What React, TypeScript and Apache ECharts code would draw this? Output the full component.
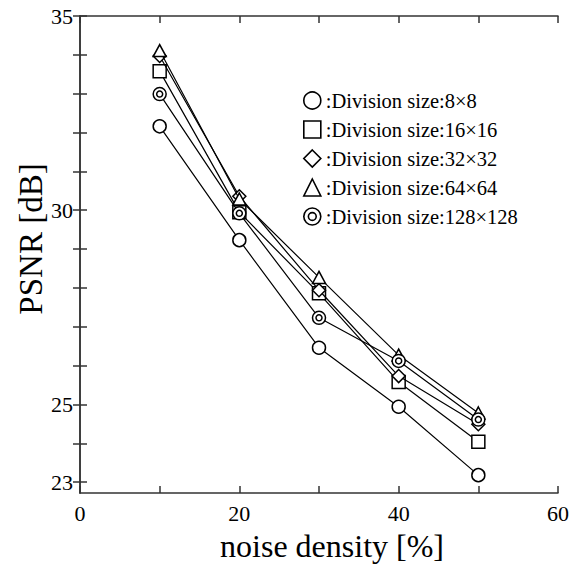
import React, { useEffect, useRef } from "react";
import * as echarts from "echarts";

const noiseDensity = [10, 20, 30, 40, 50];
const div8 = [32.16, 29.23, 26.46, 24.94, 23.18];
const div16 = [33.58, 29.95, 27.86, 25.58, 24.04];
const div32 = [33.97, 30.36, 27.94, 25.73, 24.49];
const div64 = [34.11, 30.29, 28.27, 26.27, 24.78];
const div128 = [32.99, 29.92, 27.23, 26.12, 24.61];

const seriesNames = [
  ":Division size:8×8",
  ":Division size:16×16",
  ":Division size:32×32",
  ":Division size:64×64",
  ":Division size:128×128",
];

const xTicks = [0, 10, 20, 30, 40, 50, 60];
const xLabels = [0, 20, 40, 60];
const yTicks = [23, 24, 25, 26, 27, 28, 29, 30, 31, 32, 33, 34, 35];
const yLabels = [23, 25, 30, 35];

const DOUBLE_CIRCLE =
  "path://M0,-10A10,10,0,1,1,0,10A10,10,0,1,1,0,-10ZM0,-4.6A4.6,4.6,0,1,1,0,4.6A4.6,4.6,0,1,1,0,-4.6Z";
const symbols = ["circle", "rect", "diamond", "triangle", DOUBLE_CIRCLE];
const values = [div8, div16, div32, div64, div128];

const FONT = "Liberation Serif";
const AXIS_COLOR = "#333";

export default function App() {
  const ref = useRef<HTMLDivElement>(null);

  useEffect(() => {
    document.body.style.margin = "0";
    if (!ref.current) return;
    const chart = echarts.init(ref.current, undefined, { renderer: "svg" });

    const axisLine = { show: true, lineStyle: { color: AXIS_COLOR, width: 1.5 } };

    const mkX = (pos: "bottom" | "top", labels: boolean) => ({
      type: "value",
      position: pos,
      min: 0,
      max: 60,
      interval: 10,
      axisLine,
      splitLine: { show: false },
      axisTick: {
        show: true,
        inside: true,
        length: 7,
        customValues: xTicks,
        lineStyle: { color: AXIS_COLOR, width: 1.5 },
      },
      axisLabel: {
        show: labels,
        customValues: xLabels,
        color: "#000",
        fontFamily: FONT,
        fontSize: 22,
        margin: 9,
      },
    });

    const mkY = (pos: "left" | "right", labels: boolean) => ({
      type: "value",
      position: pos,
      min: 22.72,
      max: 35,
      axisLine,
      splitLine: { show: false },
      axisTick: {
        show: true,
        inside: true,
        length: 7,
        customValues: yTicks,
        lineStyle: { color: AXIS_COLOR, width: 1.5 },
      },
      axisLabel: {
        show: labels,
        customValues: yLabels,
        color: "#000",
        fontFamily: FONT,
        fontSize: 22,
        margin: 7,
      },
    });

    chart.setOption({
      animation: false,
      textStyle: { fontFamily: FONT },
      grid: { left: 80, right: 22, top: 16, bottom: 75, containLabel: false },
      xAxis: [mkX("bottom", true), mkX("top", false)],
      yAxis: [mkY("left", true), mkY("right", false)],
      legend: {
        orient: "vertical",
        left: 303,
        top: 90,
        padding: 0,
        itemWidth: 17,
        itemHeight: 17,
        itemGap: 8,
        data: seriesNames.map((n, i) => ({ name: n, icon: symbols[i] })),
        itemStyle: { color: "#fff", borderColor: "#000", borderWidth: 1.6 },
        textStyle: {
          fontFamily: FONT,
          fontSize: 20.5,
          color: "#000",
        },
        selectedMode: false,
      },
      graphic: [
        {
          type: "text",
          x: 332,
          y: 546,
          style: {
            text: "noise density [%]",
            font: `32px ${FONT}`,
            fill: "#000",
            textAlign: "center",
            textVerticalAlign: "middle",
          },
        },
        {
          type: "text",
          x: 31,
          y: 239,
          rotation: Math.PI / 2,
          style: {
            text: "PSNR [dB]",
            font: `33px ${FONT}`,
            fill: "#000",
            textAlign: "center",
            textVerticalAlign: "middle",
          },
        },
      ],
      series: values.map((vals, i) => ({
        name: seriesNames[i],
        type: "line",
        xAxisIndex: 0,
        yAxisIndex: 0,
        data: noiseDensity.map((x, j) => [x, vals[j]]),
        symbol: symbols[i],
        symbolSize: i === 3 ? [13, 12] : 13,
        showAllSymbol: true,
        lineStyle: { color: "#000", width: 1.2 },
        itemStyle: { color: "#fff", borderColor: "#000", borderWidth: 1.5 },
        z: 2 + i,
      })),
    });

    return () => chart.dispose();
  }, []);

  return <div ref={ref} style={{ width: 580, height: 568 }} />;
}
